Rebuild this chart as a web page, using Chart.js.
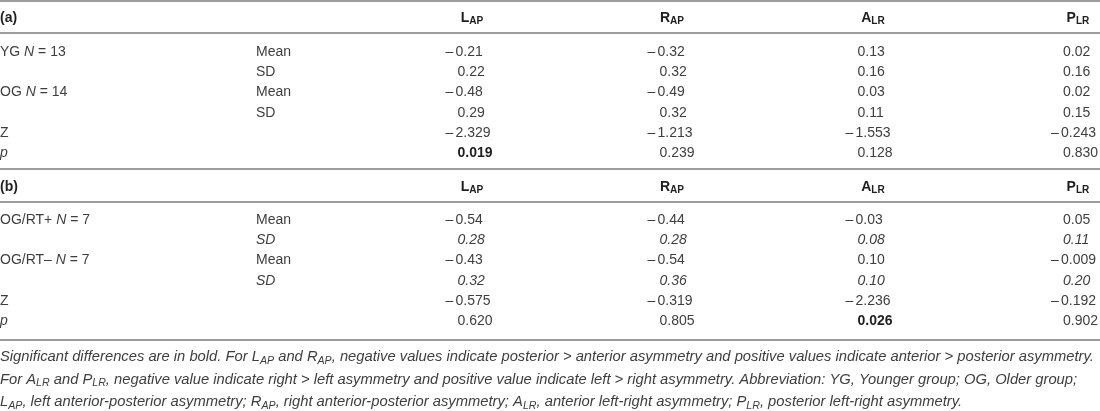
<!DOCTYPE html>
<html>
<head>
<meta charset="utf-8">
<script src="https://cdn.jsdelivr.net/npm/chart.js@4"></script>
<style>
  html, body { margin: 0; padding: 0; background: #fff; }
  canvas { display: block; }
</style>
</head>
<body>
<canvas id="asymTable" width="1100" height="411"></canvas>
<script>
// column headers (letter + subscript) and the table values
const columns = ["L_{AP}", "R_{AP}", "A_{LR}", "P_{LR}"];

// panel (a): younger vs older group
const groupLabelsA = ["YG *N* = 13", "", "OG *N* = 14", "", "Z", "*p*"];
const statLabelsA = ["Mean", "SD", "Mean", "SD", "", ""];
const ygMean = [-0.21, -0.32, 0.13, 0.02];
const ygSd = [0.22, 0.32, 0.16, 0.16];
const ogMean = [-0.48, -0.49, 0.03, 0.02];
const ogSd = [0.29, 0.32, 0.11, 0.15];
const zA = [-2.329, -1.213, -1.553, -0.243];
const pA = [0.019, 0.239, 0.128, 0.830];
const sigA = [true, false, false, false];

// panel (b): OG/RT+ vs OG/RT-
const groupLabelsB = ["OG/RT+ *N* = 7", "", "OG/RT\u2013 *N* = 7", "", "Z", "*p*"];
const statLabelsB = ["Mean", "*SD*", "Mean", "*SD*", "", ""];
const rtPlusMean = [-0.54, -0.44, -0.03, 0.05];
const rtPlusSd = [0.28, 0.28, 0.08, 0.11];
const rtMinusMean = [-0.43, -0.54, 0.10, -0.009];
const rtMinusSd = [0.32, 0.36, 0.10, 0.20];
const zB = [-0.575, -0.319, -2.236, -0.192];
const pB = [0.620, 0.805, 0.026, 0.902];
const sigB = [false, false, true, false];

const captionLines = [
  "Significant differences are in bold. For L_{AP} and R_{AP}, negative values indicate posterior > anterior asymmetry and positive values indicate anterior > posterior asymmetry.",
  "For A_{LR} and P_{LR}, negative value indicate right > left asymmetry and positive value indicate left > right asymmetry. Abbreviation: YG, Younger group; OG, Older group;",
  "L_{AP}, left anterior-posterior asymmetry; R_{AP}, right anterior-posterior asymmetry; A_{LR}, anterior left-right asymmetry; P_{LR}, posterior left-right asymmetry.",
];

// ---- layout (scale units = px of the 1100x411 page) ----
const W = 1100, H = 411;
const FONT = '"Liberation Sans", Arial, sans-serif';
const SIZE = 14;
const TEXT = "#3e3e3e", DARK = "#1f1f1f", RULE = "#7d7d7d";
const LABEL_X = 0, STAT_X = 256;
const COL_X = [445.5, 647.5, 845.5, 1051];
const HEAD_X = [472, 672, 873, 1078];
const NEG_DIGITS = 10, POS_DIGITS = 12;
const ROWS_A = [51, 71.2, 91.4, 111.6, 131.8, 152];
const ROWS_B = [219, 239.2, 259.4, 279.6, 299.8, 320];
const HEAD_A = 17, HEAD_B = 186;
const RULES = [1, 33, 169, 202, 340];
const CAPTION_Y = [356, 378.5, 401];
const CAPTION_W = 1095;

function fmt(v, dec) {
  if (v !== 0 && Math.abs(v) < 0.01) dec = 3;
  return Math.abs(v).toFixed(dec);
}

function parseRuns(s, italic) {
  const out = [];
  let cur = "", it = !!italic, sub = false;
  const push = () => { if (cur) { out.push({ t: cur, i: it, sub }); cur = ""; } };
  for (let k = 0; k < s.length; k++) {
    const c = s[k];
    if (c === "*") { push(); it = !it; }
    else if (c === "_" && s[k + 1] === "{") { push(); sub = true; k++; }
    else if (c === "}" && sub) { push(); sub = false; }
    else cur += c;
  }
  push();
  return out;
}

function fontOf(size, bold, italic) {
  return (italic ? "italic " : "") + (bold ? "bold " : "") + size + "px " + FONT;
}

function runsWidth(ctx, runs, size, bold) {
  let w = 0;
  runs.forEach((r) => {
    ctx.font = fontOf(r.sub ? size * 0.72 : size, bold, r.i);
    w += ctx.measureText(r.t).width;
  });
  return w;
}

function drawRuns(ctx, runs, x, midY, size, bold, color, align) {
  if (align === "center") x -= runsWidth(ctx, runs, size, bold) / 2;
  const base = midY + size * 0.36;
  ctx.fillStyle = color;
  ctx.textBaseline = "alphabetic";
  ctx.textAlign = "left";
  runs.forEach((r) => {
    const s = r.sub ? size * 0.72 : size;
    ctx.font = fontOf(s, bold, r.i);
    ctx.fillText(r.t, x, r.sub ? base + size * 0.16 : base);
    x += ctx.measureText(r.t).width;
  });
}

// one scatter dataset per table row; the plugin writes each cell at its point
const datasets = [];
function addPanel(rows, ys, decs, italicRows, sig) {
  rows.forEach((vals, i) => {
    datasets.push({
      data: vals.map((v, j) => ({ x: COL_X[j], y: ys[i] })),
      values: vals,
      dec: decs[i],
      italic: italicRows[i],
      bold: i === rows.length - 1 ? sig : vals.map(() => false),
    });
  });
}
addPanel([ygMean, ygSd, ogMean, ogSd, zA, pA], ROWS_A, [2, 2, 2, 2, 3, 3],
  [false, false, false, false, false, false], sigA);
addPanel([rtPlusMean, rtPlusSd, rtMinusMean, rtMinusSd, zB, pB], ROWS_B, [2, 2, 2, 2, 3, 3],
  [false, true, false, true, false, false], sigB);

const tablePlugin = {
  id: "tableText",
  afterDraw(chart) {
    const ctx = chart.ctx;
    const sx = chart.scales.x, sy = chart.scales.y;
    const px = (v) => sx.getPixelForValue(v);
    const py = (v) => sy.getPixelForValue(v);
    ctx.save();

    // horizontal rules
    ctx.strokeStyle = RULE;
    ctx.lineWidth = 1.5;
    RULES.forEach((r) => {
      ctx.beginPath();
      ctx.moveTo(px(0), py(r));
      ctx.lineTo(px(W), py(r));
      ctx.stroke();
    });

    // panel headers
    [["(a)", HEAD_A], ["(b)", HEAD_B]].forEach(([tag, hy]) => {
      drawRuns(ctx, parseRuns(tag), px(LABEL_X), py(hy), SIZE, true, DARK, "left");
      columns.forEach((c, j) => {
        drawRuns(ctx, parseRuns(c), px(HEAD_X[j]), py(hy), SIZE, true, DARK, "center");
      });
    });

    // row labels
    [[groupLabelsA, statLabelsA, ROWS_A], [groupLabelsB, statLabelsB, ROWS_B]].forEach(([g, st, ys]) => {
      ys.forEach((yv, i) => {
        if (g[i]) drawRuns(ctx, parseRuns(g[i]), px(LABEL_X), py(yv), SIZE, false, TEXT, "left");
        if (st[i]) drawRuns(ctx, parseRuns(st[i]), px(STAT_X), py(yv), SIZE, false, TEXT, "left");
      });
    });

    // cells: dash at the anchor, digits just after it
    chart.data.datasets.forEach((ds, i) => {
      chart.getDatasetMeta(i).data.forEach((pt, j) => {
        const v = ds.values[j];
        const bold = ds.bold[j];
        const color = bold ? DARK : TEXT;
        const runs = [{ t: fmt(v, ds.dec), i: ds.italic, sub: false }];
        drawRuns(ctx, runs, pt.x + (v < 0 ? NEG_DIGITS : POS_DIGITS), pt.y, SIZE, bold, color, "left");
        if (v < 0) drawRuns(ctx, [{ t: "\u2013", i: ds.italic, sub: false }], pt.x, pt.y, SIZE, bold, color, "left");
      });
    });

    // caption, sized so the first line spans the page
    const capRuns = captionLines.map((l) => parseRuns(l, true));
    const probe = runsWidth(ctx, capRuns[0], 14, false);
    const capSize = 14 * CAPTION_W / probe;
    capRuns.forEach((runs, k) => {
      drawRuns(ctx, runs, px(0), py(CAPTION_Y[k]), capSize, false, TEXT, "left");
    });

    ctx.restore();
  },
};

new Chart(document.getElementById("asymTable").getContext("2d"), {
  type: "scatter",
  data: { datasets },
  options: {
    responsive: false,
    animation: false,
    devicePixelRatio: 1,
    layout: { padding: 0 },
    elements: { point: { radius: 0, hoverRadius: 0 } },
    plugins: { legend: { display: false }, tooltip: { enabled: false } },
    scales: {
      x: { type: "linear", min: 0, max: W, display: false },
      y: { type: "linear", min: 0, max: H, reverse: true, display: false },
    },
  },
  plugins: [tablePlugin],
});
</script>
</body>
</html>
